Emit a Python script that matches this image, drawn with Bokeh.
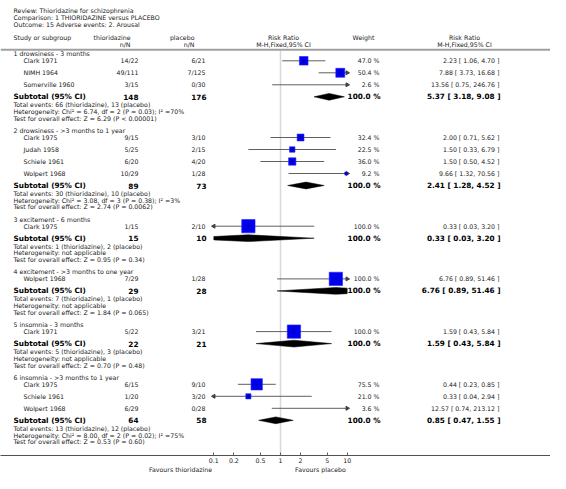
import math
from bokeh.plotting import figure
from bokeh.models import Range1d, FixedTicker, Span, ColumnDataSource, LogAxis
from bokeh.embed import file_html
from bokeh.resources import INLINE
from bokeh.core.properties import value

# ---------------- data ----------------
review = "Review:  Thioridazine for schizophrenia"
comparison = "Comparison:  1 THIORIDAZINE versus PLACEBO"
outcome = "Outcome:  15 Adverse events: 2. Arousal"

group_titles = [
    "1 drowsiness - 3 months",
    "2 drowsiness - >3 months to 1 year",
    "3 excitement - 6 months",
    "4 excitement - >3 months to one year",
    "5 insomnia - 3 months",
    "6 insomnia - >3 months to 1 year",
]
study_names = [
    ["Clark 1971", "NIMH 1964", "Somerville 1960"],
    ["Clark 1975", "Judah 1958", "Schiele 1961", "Wolpert 1968"],
    ["Clark 1975"],
    ["Wolpert 1968"],
    ["Clark 1971"],
    ["Clark 1975", "Schiele 1961", "Wolpert 1968"],
]
thio_nN = [
    ["14/22", "49/111", "3/15"],
    ["9/15", "5/25", "6/20", "10/29"],
    ["1/15"],
    ["7/29"],
    ["5/22"],
    ["6/15", "1/20", "6/29"],
]
plac_nN = [
    ["6/21", "7/125", "0/30"],
    ["3/10", "2/15", "4/20", "1/28"],
    ["2/10"],
    ["1/28"],
    ["3/21"],
    ["9/10", "3/20", "0/28"],
]
weights = [
    [47.0, 50.4, 2.6],
    [32.4, 22.5, 36.0, 9.2],
    [100.0],
    [100.0],
    [100.0],
    [75.5, 21.0, 3.6],
]
rr = [
    [2.23, 7.88, 13.56],
    [2.00, 1.50, 1.50, 9.66],
    [0.33],
    [6.76],
    [1.59],
    [0.44, 0.33, 12.57],
]
rr_lo = [
    [1.06, 3.73, 0.75],
    [0.71, 0.33, 0.50, 1.32],
    [0.03],
    [0.89],
    [0.43],
    [0.23, 0.04, 0.74],
]
rr_hi = [
    [4.70, 16.68, 246.76],
    [5.62, 6.79, 4.52, 70.56],
    [3.20],
    [51.46],
    [5.84],
    [0.85, 2.94, 213.12],
]
sub_thio_N = [148, 89, 15, 29, 22, 64]
sub_plac_N = [176, 73, 10, 28, 21, 58]
sub_rr = [5.37, 2.41, 0.33, 6.76, 1.59, 0.85]
sub_lo = [3.18, 1.28, 0.03, 0.89, 0.43, 0.47]
sub_hi = [9.08, 4.52, 3.20, 51.46, 5.84, 1.55]
total_events = [
    "Total events: 66 (thioridazine), 13 (placebo)",
    "Total events: 30 (thioridazine), 10 (placebo)",
    "Total events: 1 (thioridazine), 2 (placebo)",
    "Total events: 7 (thioridazine), 1 (placebo)",
    "Total events: 5 (thioridazine), 3 (placebo)",
    "Total events: 13 (thioridazine), 12 (placebo)",
]
heterogeneity = [
    "Heterogeneity: Chi² = 6.74, df = 2 (P = 0.03); I² =70%",
    "Heterogeneity: Chi² = 3.08, df = 3 (P = 0.38); I² =3%",
    "Heterogeneity: not applicable",
    "Heterogeneity: not applicable",
    "Heterogeneity: not applicable",
    "Heterogeneity: Chi² = 8.00, df = 2 (P = 0.02); I² =75%",
]
overall_effect = [
    "Test for overall effect: Z = 6.29 (P < 0.00001)",
    "Test for overall effect: Z = 2.74 (P = 0.0062)",
    "Test for overall effect: Z = 0.95 (P = 0.34)",
    "Test for overall effect: Z = 1.84 (P = 0.065)",
    "Test for overall effect: Z = 0.70 (P = 0.48)",
    "Test for overall effect: Z = 0.53 (P = 0.60)",
]
axis_ticks = [0.1, 0.2, 0.5, 1, 2, 5, 10]
tick_labels = ["0.1", "0.2", "0.5", "1", "2", "5", "10"]
favours_left = "Favours thioridazine"
favours_right = "Favours placebo"
col_headers = ["Study or subgroup", "thioridazine", "n/N", "placebo", "n/N",
               "Risk Ratio", "M-H,Fixed,95% CI", "Weight", "Risk Ratio", "M-H,Fixed,95% CI"]

# ---------------- layout helpers ----------------
DEC = 66.7          # pixels per decade
ONE_PX = 280.0      # x pixel of RR = 1
LOWCLIP, HIGHCLIP = axis_ticks[0], axis_ticks[-1]
FRAME_W, FRAME_H = 550, 455

def X(px):
    """x pixel -> data value on the log axis"""
    return 10 ** ((px - ONE_PX) / DEC)

FONT = value("DejaVu Sans")
REG = "6.25px"
BOLD = "7.3px"

p = figure(frame_width=FRAME_W, frame_height=FRAME_H, x_axis_type="log",
           x_range=Range1d(X(0), X(FRAME_W)),
           y_range=Range1d(FRAME_H, 0),
           y_axis_location=None, toolbar_location=None,
           output_backend="svg", min_border_left=0, min_border_right=0,
           min_border_top=0, min_border_bottom=0)
p.grid.visible = False
p.outline_line_color = None
p.background_fill_color = "white"
p.border_fill_color = "white"

reg_txt = dict(x=[], y=[], t=[], align=[])
bold_txt = dict(x=[], y=[], t=[], align=[])

def put(d, px, y, t, align="left"):
    d["x"].append(X(px)); d["y"].append(y); d["t"].append(t); d["align"].append(align)

# titles
put(reg_txt, 13, 9.5, review)
put(reg_txt, 13, 16.7, comparison)
put(reg_txt, 13, 23.9, outcome)
# column headers
H1, H2 = 37.0, 43.8
put(reg_txt, 13, H1, col_headers[0])
put(reg_txt, 130, H1, col_headers[1], "right")
put(reg_txt, 130, H2, col_headers[2], "right")
put(reg_txt, 194, H1, col_headers[3], "right")
put(reg_txt, 194, H2, col_headers[4], "right")
put(reg_txt, 283, H1, col_headers[5], "center")
put(reg_txt, 283, H2, col_headers[6], "center")
put(reg_txt, 363, H1, col_headers[7], "center")
put(reg_txt, 464, H1, col_headers[8], "center")
put(reg_txt, 464, H2, col_headers[9], "center")

sq = dict(x=[], y=[], size=[])
ci = dict(x0=[], x1=[], y=[])
arr_r = dict(x=[], y=[])
arr_l = dict(x=[], y=[])
dia_xs, dia_ys = [], []
HALF = 3.4

def fmt_ci(e, lo, hi):
    return f"{e:.2f} [ {lo:.2f}, {hi:.2f} ]"

def add_ci(e, lo, hi, y):
    ci["x0"].append(max(lo, LOWCLIP)); ci["x1"].append(min(hi, HIGHCLIP)); ci["y"].append(y)
    if lo < LOWCLIP:
        arr_l["x"].append(LOWCLIP); arr_l["y"].append(y)
    if hi > HIGHCLIP:
        arr_r["x"].append(HIGHCLIP); arr_r["y"].append(y)

def add_diamond(e, lo, hi, y):
    L, C, R = math.log10(lo), math.log10(e), math.log10(hi)
    a, b = math.log10(LOWCLIP), math.log10(HIGHCLIP)
    xs, ys = [], []
    if L < a:
        hh = HALF * (a - L) / (C - L)
        xs += [a, a]; ys += [y + hh, y - hh]
    else:
        xs += [L]; ys += [y]
    xs += [C]; ys += [y - HALF]
    if R > b:
        hh = HALF * (R - b) / (R - C)
        xs += [b, b]; ys += [y - hh, y + hh]
    else:
        xs += [R]; ys += [y]
    xs += [C]; ys += [y + HALF]
    dia_xs.append([10 ** v for v in xs]); dia_ys.append(ys)

y = 53.3
first_row = y
for g in range(len(group_titles)):
    put(reg_txt, 13, y, group_titles[g])
    y += 7.0
    for i, name in enumerate(study_names[g]):
        put(reg_txt, 23, y, name)
        put(reg_txt, 138, y, thio_nN[g][i], "right")
        put(reg_txt, 205, y, plac_nN[g][i], "right")
        put(reg_txt, 379, y, f"{weights[g][i]:.1f} %", "right")
        put(reg_txt, 499, y, fmt_ci(rr[g][i], rr_lo[g][i], rr_hi[g][i]), "right")
        add_ci(rr[g][i], rr_lo[g][i], rr_hi[g][i], y)
        if LOWCLIP <= rr[g][i] <= HIGHCLIP:
            sq["x"].append(rr[g][i]); sq["y"].append(y)
            sq["size"].append(max(2.0, 15.0 * math.sqrt(weights[g][i] / 100.0) - 1.7))
        y += 12
    put(bold_txt, 13, y, "Subtotal (95% CI)")
    put(bold_txt, 138, y, str(sub_thio_N[g]), "right")
    put(bold_txt, 206, y, str(sub_plac_N[g]), "right")
    put(bold_txt, 380, y, "100.0 %", "right")
    put(bold_txt, 500, y, fmt_ci(sub_rr[g], sub_lo[g], sub_hi[g]), "right")
    add_diamond(sub_rr[g], sub_lo[g], sub_hi[g], y)
    put(reg_txt, 13, y + 8.0, total_events[g])
    put(reg_txt, 13, y + 14.7, heterogeneity[g])
    put(reg_txt, 13, y + 21.4, overall_effect[g])
    y += 33.7

# header rule and null line
p.add_layout(Span(location=49.3, dimension="width", line_color="#a0a0a0", line_width=2))
p.segment(x0=[1], y0=[first_row - 3], x1=[1], y1=[FRAME_H], line_color="#d8d8d8", line_width=1.5)

# CI lines
p.segment(x0="x0", x1="x1", y0="y", y1="y", source=ColumnDataSource(ci),
          line_color="#606060", line_width=1)
p.scatter(x="x", y="y", source=ColumnDataSource(arr_r), marker="triangle",
          angle=-math.pi / 2, size=4, fill_color="#404040", line_color="#404040")
p.scatter(x="x", y="y", source=ColumnDataSource(arr_l), marker="triangle",
          angle=math.pi / 2, size=4, fill_color="#404040", line_color="#404040")
# squares
p.scatter(x="x", y="y", size="size", source=ColumnDataSource(sq), marker="square",
          fill_color="#0000ee", line_color="#2020ff", line_width=0.6)
p.scatter(x="x", y="y", source=ColumnDataSource(sq), marker="cross", size=3,
          line_color="#000066", line_width=0.6)
# diamonds
p.patches(xs=dia_xs, ys=dia_ys, fill_color="black", line_color="black", line_width=0.5)

# texts
for d, size, style, color in ((reg_txt, REG, "normal", "#222222"),
                              (bold_txt, BOLD, "bold", "#000000")):
    p.text(x="x", y="y", text="t", text_align="align", source=ColumnDataSource(d),
           text_font=FONT, text_font_size=size, text_font_style=style,
           text_color=color, text_baseline="middle")

# main axis
ax = p.xaxis[0]
ax.ticker = FixedTicker(ticks=axis_ticks)
ax.major_label_overrides = {t: l for t, l in zip(axis_ticks, tick_labels)}
ax.minor_tick_line_color = None
ax.major_tick_in = 3
ax.major_tick_out = 0
ax.major_tick_line_color = "#606060"
ax.axis_line_color = "#505050"
ax.axis_line_width = 1
ax.major_label_standoff = 2
ax.major_label_text_font = "DejaVu Sans"
ax.major_label_text_font_size = REG
ax.major_label_text_color = "#222222"

# second (label-only) axis carrying the "Favours" captions
fav_pos = [round(X(180), 4), round(X(320), 3)]
ax2 = LogAxis(ticker=FixedTicker(ticks=fav_pos),
              major_label_overrides={fav_pos[0]: favours_left, fav_pos[1]: favours_right},
              axis_line_color=None, major_tick_line_color=None, minor_tick_line_color=None,
              major_tick_in=0, major_tick_out=0, major_label_standoff=0,
              major_label_text_font="DejaVu Sans", major_label_text_font_size=REG,
              major_label_text_color="#222222")
p.add_layout(ax2, "below")

open("out.html", "w").write(file_html(p, INLINE))
